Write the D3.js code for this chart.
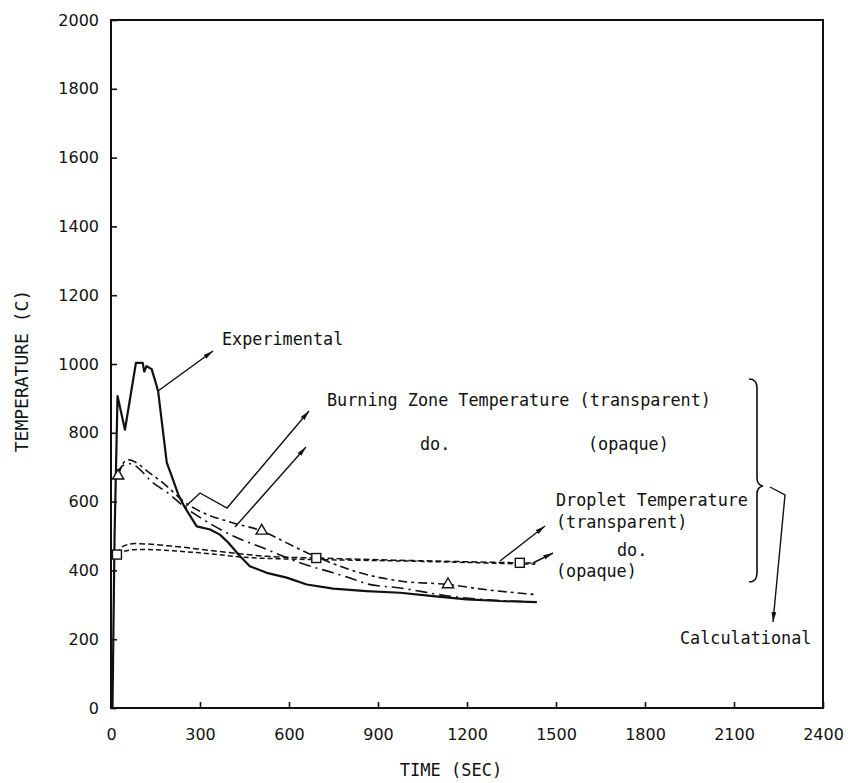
<!DOCTYPE html>
<html><head><meta charset="utf-8">
<script src="https://cdn.jsdelivr.net/npm/d3@7"></script>
<style>
html,body{margin:0;padding:0;background:#fff;}
svg{display:block;}
.ann{font-family:"DejaVu Sans Mono",monospace;font-size:16.8px;fill:#111;}
.tick text{font-family:"DejaVu Sans",sans-serif;font-size:16px;fill:#111;}
.atitle{font-family:"DejaVu Sans Mono",monospace;fill:#111;}
</style></head>
<body>
<svg id="c" width="848" height="783"></svg>
<script>
// ---- data (time in s, temperature in C) ----
const xTicks = [0,300,600,900,1200,1500,1800,2100,2400];
const yTicks = [0,200,400,600,800,1000,1200,1400,1600,1800,2000];

const expTime = [5,12,22,47,84,107,112,120,137,148,159,188,205,227,249,289,334,367,395,435,468,525,592,660,749,861,974,1086,1199,1311,1435];
const expTemp = [0,500,907,809,1003,1003,978,994,985,954,920,713,673,620,583,528,519,504,481,441,412,393,379,359,347,340,335,325,316,311,308];

const bzTrTime = [24,40,57,131,188,244,300,412,508,592,637,727,839,974,1136,1254,1429];
const bzTrTemp = [675,710,722,683,645,601,572,538,515,480,461,427,393,369,359,345,330];

const bzOpTime = [20,40,64,143,199,244,311,412,525,637,749,806,862,974,1143,1435];
const bzOpTemp = [680,705,710,654,620,587,548,500,461,422,393,378,361,349,325,308];

const drTrTime = [20,40,80,188,356,525,692,900,1100,1378,1430];
const drTrTemp = [446,470,478,472,456,441,436,431,427,422,421];

const drOpTime = [20,40,98,300,468,600,800,1000,1200,1430];
const drOpTemp = [446,455,461,451,437,433,430,427,423,418];

const triTime = [24,508,1136];
const triTemp = [675,515,359];
const sqTime = [20,692,1378];
const sqTemp = [446,436,422];

// ---- chart ----
const svg = d3.select("#c");
const x = d3.scaleLinear().domain([0,2400]).range([111,823]);
const y = d3.scaleLinear().domain([0,2000]).range([708,20]);
const ink = "#111";

const defs = svg.append("defs");
defs.append("marker").attr("id","ah").attr("viewBox","0 -3 10 6")
  .attr("refX",10).attr("refY",0).attr("markerWidth",10).attr("markerHeight",6)
  .attr("markerUnits","userSpaceOnUse").attr("orient","auto")
  .append("path").attr("d","M0,-2.4L10,0L0,2.4Z").attr("fill",ink);

// axes
const ya = svg.append("g").attr("transform","translate(111,0)")
  .call(d3.axisLeft(y).tickValues(yTicks).tickSize(-6).tickPadding(12).tickFormat(d3.format("d")));
const xa = svg.append("g").attr("transform","translate(0,708)")
  .call(d3.axisBottom(x).tickValues(xTicks).tickSize(-6).tickPadding(21).tickFormat(d3.format("d")));
[ya,xa].forEach(g=>{g.select(".domain").remove(); g.selectAll(".tick line").attr("stroke",ink).attr("stroke-width",1.6);});

// frame
svg.append("rect").attr("x",x(0)).attr("y",y(2000)).attr("width",x(2400)-x(0)).attr("height",y(0)-y(2000))
  .attr("fill","none").attr("stroke",ink).attr("stroke-width",2);

// axis titles
svg.append("text").attr("class","atitle").attr("font-size",18)
  .attr("transform","translate(28,371) rotate(-90)").attr("text-anchor","middle").text("TEMPERATURE (C)");
svg.append("text").attr("class","atitle").attr("font-size",17)
  .attr("x",451).attr("y",776).attr("text-anchor","middle").text("TIME (SEC)");

const zip = (a,b)=>a.map((t,i)=>[t,b[i]]);
const smooth = d3.line().x(d=>x(d[0])).y(d=>y(d[1])).curve(d3.curveMonotoneX);
const lin = d3.line().x(d=>x(d[0])).y(d=>y(d[1]));

const series = [
  {d:zip(drTrTime,drTrTemp), gen:smooth, dash:"6,3", w:1.5},
  {d:zip(drOpTime,drOpTemp), gen:smooth, dash:"5,3", w:1.5},
  {d:zip(bzOpTime,bzOpTemp), gen:smooth, dash:"12,5,2,5", w:1.6},
  {d:zip(bzTrTime,bzTrTemp), gen:smooth, dash:"9,4,3,4", w:1.6},
  {d:zip(expTime,expTemp), gen:lin, dash:null, w:2.2}
];
series.forEach(s=>{
  svg.append("path").attr("d",s.gen(s.d)).attr("fill","none").attr("stroke",ink)
    .attr("stroke-width",s.w).attr("stroke-dasharray",s.dash).attr("stroke-linejoin","round");
});

// markers
const tri = d3.symbol().type(d3.symbolTriangle).size(55);
svg.selectAll(".tri").data(zip(triTime,triTemp)).join("path")
  .attr("transform",d=>`translate(${x(d[0])},${y(d[1])})`).attr("d",tri)
  .attr("fill","#fff").attr("stroke",ink).attr("stroke-width",1.4);
svg.selectAll(".sq").data(zip(sqTime,sqTemp)).join("rect")
  .attr("x",d=>x(d[0])-4.5).attr("y",d=>y(d[1])-4.5).attr("width",9).attr("height",9)
  .attr("fill","#fff").attr("stroke",ink).attr("stroke-width",1.4);

// annotations
const ann = (t,px,py)=>svg.append("text").attr("class","ann").attr("x",px).attr("y",py).text(t);
ann("Experimental",222,345);
ann("Burning Zone Temperature (transparent)",327,406);
ann("do.",420,450);
ann("(opaque)",588,450);
ann("Droplet Temperature",556,506);
ann("(transparent)",556,528);
ann("do.",617,556);
ann("(opaque)",556,577);
ann("Calculational",680,644);

const arrow = (pts,head=true)=>{
  const p = svg.append("path").attr("d",d3.line()(pts)).attr("fill","none")
    .attr("stroke",ink).attr("stroke-width",1.4);
  if(head) p.attr("marker-end","url(#ah)");
};
arrow([[158,391],[213,351]]);
arrow([[185,507],[200,493],[227,508],[309,411]]);
arrow([[235,527],[306,447]]);
arrow([[500,561],[545,526]]);
arrow([[533,563],[553,553]]);
arrow([[770,487],[785,495],[773,622]]);

// brace
svg.append("path").attr("d","M749,379 Q757,379 757,388 L757,478 Q757,485 763,486 Q757,487 757,494 L757,573 Q757,582 749,582")
  .attr("fill","none").attr("stroke",ink).attr("stroke-width",1.6);
</script>
</body></html>
